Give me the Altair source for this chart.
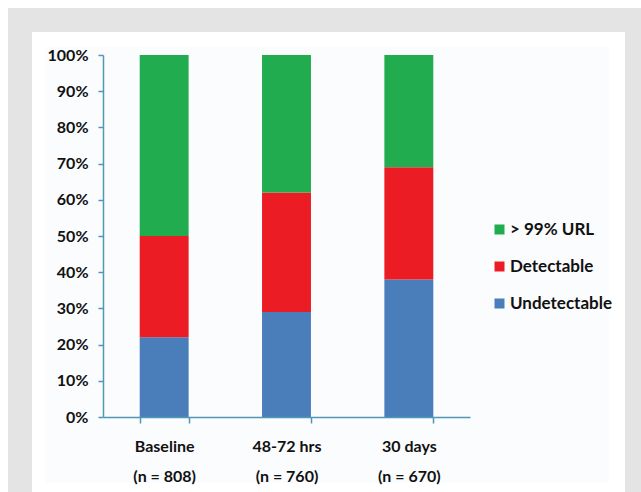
import altair as alt
import pandas as pd

# Troponin status at each time point, percent of patients
timepoints = ["Baseline", "48-72 hrs", "30 days"]
sample_sizes = [808, 760, 670]
statuses = ["> 99% URL", "Detectable", "Undetectable"]
undetectable = [22, 29, 38]
detectable = [28, 33, 31]
above_url = [50, 38, 31]
colors = ["#21ad4f", "#ec1c24", "#4a7ebb"]

rows = []
for i, tp in enumerate(timepoints):
    label = f"{tp}\n(n = {sample_sizes[i]})"
    for status, vals, order in [
        ("Undetectable", undetectable, 0),
        ("Detectable", detectable, 1),
        ("> 99% URL", above_url, 2),
    ]:
        rows.append({"timepoint": label, "status": status, "pct": vals[i], "order": order})
df = pd.DataFrame(rows)
x_domain = [f"{tp}\n(n = {n})" for tp, n in zip(timepoints, sample_sizes)]

FONT = "Lato"
AXIS_COLOR = "#4f98b5"
W, H = 367, 362
PAD_L, PAD_T = 103, 55

# framed panel behind the chart
one = alt.Data(values=[{}])
frame = alt.Chart(one).mark_rect(color="#e4e4e4").encode(
    x=alt.value(8 - PAD_L), x2=alt.value(641 - PAD_L),
    y=alt.value(8 - PAD_T), y2=alt.value(492 - PAD_T),
)
panel = alt.Chart(one).mark_rect(color="#ffffff").encode(
    x=alt.value(32 - PAD_L), x2=alt.value(625 - PAD_L),
    y=alt.value(32 - PAD_T), y2=alt.value(492 - PAD_T),
)
inner = alt.Chart(one).mark_rect(color="#fbfcfe").encode(
    x=alt.value(46 - PAD_L), x2=alt.value(609 - PAD_L),
    y=alt.value(47 - PAD_T), y2=alt.value(483 - PAD_T),
)

bars = alt.Chart(df).mark_bar().encode(
    x=alt.X(
        "timepoint:N",
        sort=x_domain,
        scale=alt.Scale(domain=x_domain, paddingInner=0.6, paddingOuter=0.3),
        axis=alt.Axis(
            title=None,
            labelAngle=0,
            labelExpr="split(datum.label, '\\n')",
            labelLineHeight=30,
            labelPadding=15,
            tickBand="extent",
            tickSize=6,
            labelFontSize=16,
            labelFont=FONT,
            labelFontWeight="bold",
            labelColor="#111111",
            domainColor=AXIS_COLOR,
            tickColor=AXIS_COLOR,
            domainWidth=1.5,
            tickWidth=1.5,
            zindex=2,
        ),
    ),
    y=alt.Y(
        "pct:Q",
        stack="zero",
        scale=alt.Scale(domain=[0, 100], nice=False),
        axis=alt.Axis(
            title=None,
            values=list(range(0, 101, 10)),
            labelExpr="datum.value + '%'",
            grid=False,
            tickSize=5,
            labelPadding=10,
            labelFontSize=16,
            labelFont=FONT,
            labelFontWeight="bold",
            labelColor="#111111",
            domainColor=AXIS_COLOR,
            tickColor=AXIS_COLOR,
            domainWidth=1.5,
            tickWidth=1.5,
            zindex=2,
        ),
    ),
    color=alt.Color(
        "status:N",
        scale=alt.Scale(domain=statuses, range=colors),
        legend=alt.Legend(
            title=None,
            orient="none",
            legendX=388,
            legendY=166,
            symbolType="square",
            symbolSize=100,
            symbolStrokeWidth=0,
            labelFont=FONT,
            labelFontSize=17,
            labelFontWeight="bold",
            labelColor="#111111",
            labelOffset=2,
            rowPadding=19,
            labelLimit=200,
        ),
    ),
    order=alt.Order("order:Q", sort="ascending"),
)

chart = (
    alt.layer(frame, panel, inner, bars)
    .properties(
        width=W,
        height=H,
        autosize=alt.AutoSizeParams(type="none"),
        padding={"left": PAD_L, "top": PAD_T, "right": 641 - PAD_L - W, "bottom": 492 - PAD_T - H},
        background="#ffffff",
    )
    .configure_view(stroke=None)
)

chart.save("out.html", embed_options={"renderer": "svg", "actions": False})
